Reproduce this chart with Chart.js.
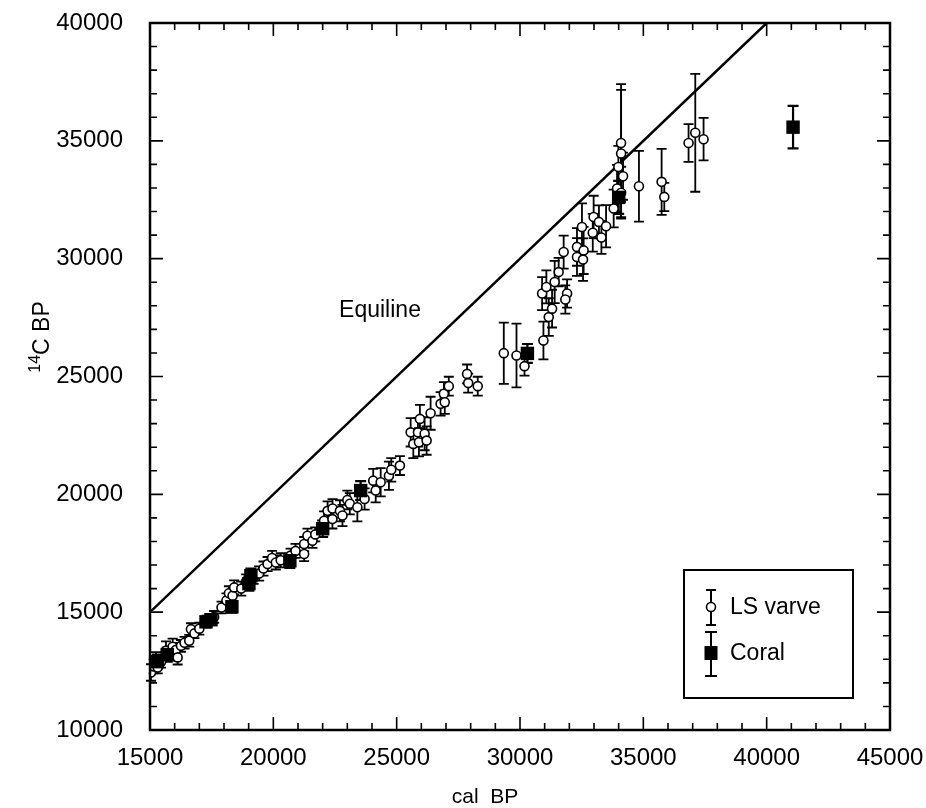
<!doctype html>
<html lang="en">
<head>
  <meta charset="utf-8">
  <title>14C vs cal BP</title>
  <script src="https://cdn.jsdelivr.net/npm/chart.js"></script>
  <style>
    html, body { margin: 0; padding: 0; background: #fff; }
    #wrap { width: 926px; height: 808px; }
  </style>
</head>
<body>
<div id="wrap"><canvas id="myChart" width="926" height="808"></canvas></div>
<script>
// LS varve (Lake Suigetsu) points: cal BP, 14C BP, 1-sigma error
const varveCal = [15040, 15150, 15243, 15312, 15450, 15648, 15800, 15919, 16050, 16121, 16255, 16400, 16591, 16660, 16800, 17000,
  17300, 17600, 17900, 18100, 18200, 18348, 18413, 18700, 18900, 19200, 19425, 19600, 19765, 19950, 20101, 20300,
  20700, 20900, 21249, 21250, 21384, 21587, 21700, 22057, 22200, 22396, 22400, 22700, 22802, 23001, 23100,
  23406, 23700, 24049, 24150, 24352, 24687, 24781, 25131, 25567, 25675, 25863, 25903, 25943, 26134, 26214, 26376,
  26781, 26913, 26950, 27113, 27855, 27900, 28287,
  29343, 29858, 30182, 30950, 31166, 31300, 30897, 31069, 31406, 31909, 31838, 31567, 31770, 32310, 32310,
  32580, 32555, 32512, 32985, 33200, 33490, 32950, 33300,
  33798, 33935, 34100, 34178, 33988, 34097, 34100, 34822, 35741, 35850, 36834, 37106, 37442];
const varveC14 = [12440, 12700, 13005, 12650, 12900, 13360, 13250, 13530, 13400, 13080, 13570, 13700, 13790, 14280, 14100, 14300,
  14600, 14800, 15200, 15500, 15800, 15700, 16050, 16000, 16300, 16500, 16640, 16850, 17040, 17300, 17110, 17200,
  17400, 17600, 17470, 17890, 18245, 18030, 18300, 18880, 19300, 18950, 19400, 19300, 19100, 19760, 19600,
  19450, 19800, 20580, 20160, 20510, 20790, 21040, 21220, 22630, 22140, 22630, 22210, 23200, 22570, 22280, 23440,
  23840, 24265, 23910, 24590, 25110, 24720, 24590,
  25990, 25890, 25440, 26530, 27520, 27880, 28520, 28800, 29010, 28520, 28270, 29430, 30280, 30500, 30070,
  30350, 29960, 31345, 31770, 31560, 31375, 31100, 30900,
  32130, 32980, 32800, 33500, 33890, 34910, 34460, 33070, 33260, 32620, 34910, 35340, 35070];
const varveErr = [350, 300, 300, 250, 250, 400, 300, 350, 300, 300, 250, 250, 250, 250, 200, 250,
  250, 250, 250, 300, 300, 300, 300, 300, 300, 300, 300, 300, 300, 300, 300, 300,
  300, 300, 300, 300, 300, 300, 300, 400, 400, 400, 400, 450, 450, 400, 450,
  600, 450, 500, 500, 600, 600, 500, 400, 600, 600, 600, 600, 600, 700, 600, 700,
  500, 500, 500, 400, 400, 400, 400,
  1300, 1350, 400, 800, 800, 800, 700, 700, 900, 600, 600, 600, 700, 800, 800,
  1000, 900, 1000, 900, 700, 900, 800, 700,
  800, 1000, 1100, 1000, 900, 2500, 2700, 1500, 1400, 600, 800, 2500, 900];

// Coral points
const coralCal = [15300, 15700, 17270, 17470, 18320, 19010, 19090, 20670, 22000, 23540, 30300, 34000, 41070];
const coralC14 = [12900, 13200, 14590, 14680, 15230, 16210, 16550, 17180, 18540, 20160, 25980, 32600, 35580];
const coralErr = [300, 300, 200, 200, 250, 300, 300, 300, 350, 400, 400, 700, 900];

// Equiline
const equiCal = [15000, 40000];
const equiC14 = [15000, 40000];

const toXY = (xs, ys) => xs.map((x, i) => ({ x: x, y: ys[i] }));

const FONT = "'Liberation Sans', Arial, Helvetica, sans-serif";

// vertical error bars with caps, drawn behind the symbols
const errorBars = {
  id: 'errorBars',
  beforeDatasetsDraw(chart) {
    const ctx = chart.ctx;
    const xs = chart.scales.x, ys = chart.scales.y;
    ctx.save();
    ctx.strokeStyle = '#000';
    chart.data.datasets.forEach(ds => {
      if (!ds.errors) return;
      ctx.lineWidth = ds.errWidth;
      ds.data.forEach((p, i) => {
        const px = xs.getPixelForValue(p.x);
        const top = ys.getPixelForValue(p.y + ds.errors[i]);
        const bot = ys.getPixelForValue(p.y - ds.errors[i]);
        const c = ds.capHalf;
        ctx.beginPath();
        ctx.moveTo(px, top); ctx.lineTo(px, bot);
        ctx.moveTo(px - c, top); ctx.lineTo(px + c, top);
        ctx.moveTo(px - c, bot); ctx.lineTo(px + c, bot);
        ctx.stroke();
      });
    });
    ctx.restore();
  }
};

// frame, inward ticks, axis titles, annotation and legend box
const decor = {
  id: 'decor',
  afterDraw(chart) {
    const ctx = chart.ctx;
    const a = chart.chartArea;
    const xs = chart.scales.x, ys = chart.scales.y;
    ctx.save();
    ctx.strokeStyle = '#000';
    ctx.lineWidth = 2.5;
    ctx.strokeRect(a.left, a.top, a.right - a.left, a.bottom - a.top);

    ctx.lineWidth = 1.6;
    ctx.beginPath();
    for (let v = xs.min; v <= xs.max; v += 1000) {
      const px = xs.getPixelForValue(v);
      const len = v % 5000 === 0 ? 13 : 7;
      ctx.moveTo(px, a.bottom); ctx.lineTo(px, a.bottom - len);
      ctx.moveTo(px, a.top); ctx.lineTo(px, a.top + len);
    }
    for (let v = ys.min; v <= ys.max; v += 1000) {
      const py = ys.getPixelForValue(v);
      const len = v % 5000 === 0 ? 13 : 7;
      ctx.moveTo(a.left, py); ctx.lineTo(a.left + len, py);
      ctx.moveTo(a.right, py); ctx.lineTo(a.right - len, py);
    }
    ctx.stroke();

    ctx.fillStyle = '#000';
    // x title
    ctx.font = '21px ' + FONT;
    ctx.textAlign = 'center';
    ctx.textBaseline = 'alphabetic';
    ctx.fillText('cal  BP', 485, 803);

    // y title with superscript
    ctx.save();
    ctx.translate(49, 337);
    ctx.rotate(-Math.PI / 2);
    ctx.textAlign = 'left';
    ctx.font = '16px ' + FONT;
    const w14 = ctx.measureText('14').width;
    ctx.font = '23px ' + FONT;
    const wRest = ctx.measureText('C BP').width;
    const start = -(w14 + wRest) / 2;
    ctx.font = '16px ' + FONT;
    ctx.fillText('14', start, -9);
    ctx.font = '23px ' + FONT;
    ctx.fillText('C BP', start + w14, 0);
    ctx.restore();

    // Equiline label
    ctx.font = '23px ' + FONT;
    ctx.textAlign = 'center';
    ctx.textBaseline = 'middle';
    ctx.fillText('Equiline', 380, 311);

    // legend box
    ctx.fillStyle = '#fff';
    ctx.fillRect(684, 570, 169, 128);
    ctx.lineWidth = 2;
    ctx.strokeRect(684, 570, 169, 128);
    ctx.lineWidth = 2;
    ctx.beginPath();
    ctx.moveTo(711, 590); ctx.lineTo(711, 625);
    ctx.moveTo(706, 590); ctx.lineTo(716, 590);
    ctx.moveTo(706, 625); ctx.lineTo(716, 625);
    ctx.moveTo(711, 632); ctx.lineTo(711, 676);
    ctx.moveTo(705, 632); ctx.lineTo(717, 632);
    ctx.moveTo(705, 676); ctx.lineTo(717, 676);
    ctx.stroke();
    ctx.beginPath();
    ctx.arc(711, 607, 4.5, 0, Math.PI * 2);
    ctx.fillStyle = '#fff';
    ctx.fill();
    ctx.lineWidth = 1.6;
    ctx.stroke();
    ctx.fillStyle = '#000';
    ctx.fillRect(704.5, 646, 13, 14);
    ctx.font = '23px ' + FONT;
    ctx.textAlign = 'left';
    ctx.textBaseline = 'middle';
    ctx.fillText('LS varve', 730, 608);
    ctx.fillText('Coral', 730, 654);
    ctx.restore();
  }
};

const config = {
  type: 'scatter',
  data: {
    datasets: [{
      label: 'Coral',
      data: toXY(coralCal, coralC14),
      errors: coralErr,
      errWidth: 2.2,
      capHalf: 5.5,
      pointStyle: 'rect',
      pointRadius: 9.5,
      backgroundColor: '#000',
      borderColor: '#000',
      borderWidth: 0
    }, {
      label: 'LS varve',
      data: toXY(varveCal, varveC14),
      errors: varveErr,
      errWidth: 1.8,
      capHalf: 5,
      pointStyle: 'circle',
      pointRadius: 4.5,
      backgroundColor: '#fff',
      borderColor: '#000',
      borderWidth: 1.6
    }, {
      label: 'Equiline',
      type: 'line',
      data: toXY(equiCal, equiC14),
      borderColor: '#000',
      borderWidth: 2.5,
      pointRadius: 0,
      fill: false
    }]
  },
  options: {
    responsive: false,
    animation: false,
    layout: { padding: { top: 23, right: 36, left: 0, bottom: 0 } },
    plugins: {
      legend: { display: false },
      tooltip: { enabled: false }
    },
    scales: {
      x: {
        type: 'linear',
        min: 15000,
        max: 45000,
        grid: { display: false, drawTicks: false },
        border: { display: false },
        ticks: {
          stepSize: 5000,
          padding: 14,
          color: '#000',
          font: { family: FONT, size: 24 },
          maxRotation: 0,
          callback: v => String(v)
        },
        afterFit: s => { s.height = 78; s.paddingLeft = 0; s.paddingRight = 0; }
      },
      y: {
        type: 'linear',
        min: 10000,
        max: 40000,
        grid: { display: false, drawTicks: false },
        border: { display: false },
        ticks: {
          stepSize: 5000,
          padding: 27,
          color: '#000',
          font: { family: FONT, size: 24 },
          callback: v => String(v)
        },
        afterFit: s => { s.width = 150; s.paddingTop = 0; s.paddingBottom = 0; }
      }
    }
  },
  plugins: [errorBars, decor]
};

const myChart = new Chart(document.getElementById('myChart'), config);
</script>
</body>
</html>
